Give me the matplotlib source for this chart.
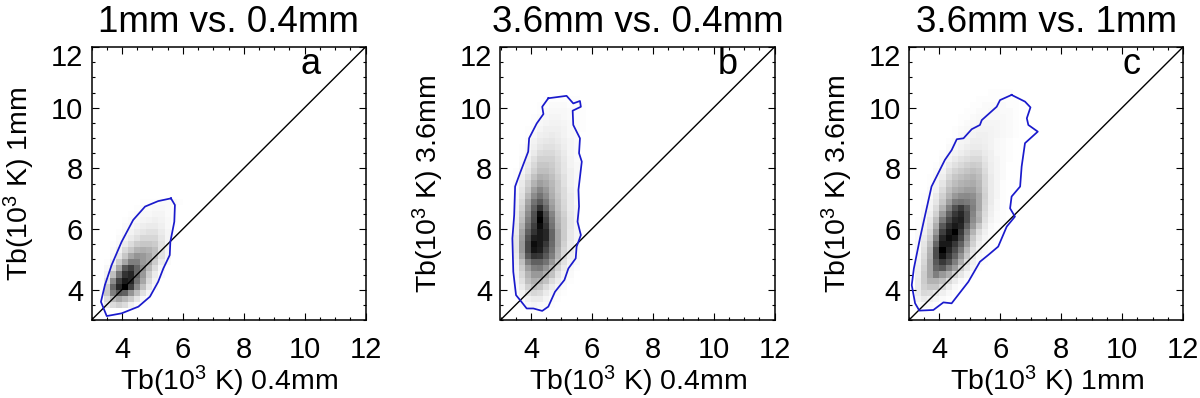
import numpy as np
import matplotlib
matplotlib.use("Agg")
import matplotlib.pyplot as plt
from matplotlib.ticker import MultipleLocator
from matplotlib.transforms import ScaledTranslation

plt.rcParams['font.family'] = ['Liberation Sans', 'DejaVu Sans']
plt.rcParams['mathtext.default'] = 'regular'

titles = ["1mm vs. 0.4mm", "3.6mm vs. 0.4mm", "3.6mm vs. 1mm"]
xlabels = ["Tb(10$^{3}$ K) 0.4mm", "Tb(10$^{3}$ K) 0.4mm", "Tb(10$^{3}$ K) 1mm"]
ylabels = ["Tb(10$^{3}$ K) 1mm", "Tb(10$^{3}$ K) 3.6mm", "Tb(10$^{3}$ K) 3.6mm"]
letters = ["a", "b", "c"]
letter_x = [10.2, 10.45, 10.3]
ticks = [4, 6, 8, 10, 12]

# Darkness (percent of black) per 0.2-wide cell; rows go upward from y0, columns rightward from x0
a_x0, a_y0 = 3.4, 3.4
density_a = [
 [8,14,18,14,6,2],
 [14,28,35,28,20,10,3],
 [22,50,65,62,42,25,12,4],
 [20,60,85,100,75,45,25,10,3],
 [10,45,75,90,85,55,35,15,5],
 [5,25,55,80,85,60,40,20,8,2],
 [3,12,35,65,75,60,45,28,14,4],
 [1,6,20,35,50,50,40,35,20,8,2],
 [0,3,10,22,35,42,40,35,25,12,4],
 [0,2,6,15,22,30,32,30,25,12,4],
 [0,1,3,8,14,20,22,22,20,12,4],
 [0,0,2,5,8,12,16,16,16,10,4],
 [0,0,1,3,5,8,10,12,12,8,4,1],
 [0,0,0,2,3,5,7,8,8,6,3,1],
 [0,0,0,1,2,3,4,5,6,5,3,1],
 [0,0,0,0,1,2,3,3,4,4,2,1],
 [0,0,0,0,0,1,2,2,3,3,2,1],
 [0,0,0,0,0,0,1,1,1,2,2,2,1],
]
b_x0, b_y0 = 3.4, 3.4
density_b = [
 [0,1,3,4,3,2,1],
 [0,2,6,8,8,4,2,1],
 [1,5,12,16,14,8,4,2,1],
 [2,8,18,25,22,14,8,4,2],
 [3,12,25,32,30,24,14,8,3,1],
 [4,16,30,40,40,32,24,12,5,2],
 [5,20,38,50,52,42,30,18,8,3,1],
 [6,25,50,62,62,55,40,24,12,5,2],
 [8,35,65,80,78,65,50,30,15,7,3],
 [10,40,72,92,88,72,55,32,16,8,3],
 [10,40,72,95,90,78,58,35,18,8,3],
 [10,38,68,88,90,85,60,35,20,9,4],
 [8,35,62,80,90,85,60,35,20,9,4],
 [8,30,55,75,95,80,55,32,20,10,4],
 [7,25,50,70,100,75,52,30,20,10,4],
 [6,22,45,68,95,70,48,28,18,9,4],
 [5,18,40,62,80,60,40,25,16,8,4],
 [4,15,35,55,65,52,36,24,15,8,3],
 [3,12,28,45,55,45,32,22,14,8,3],
 [2,10,22,38,48,40,30,20,14,7,3],
 [2,8,18,30,38,34,28,20,12,6,3],
 [1,6,14,24,32,30,25,18,12,6,3],
 [1,4,10,18,25,25,22,16,10,6,3],
 [0,3,8,15,22,22,20,15,10,5,3],
 [0,2,6,12,18,18,18,14,9,5,2],
 [0,1,4,8,14,15,15,12,8,4,2],
 [0,1,3,6,10,12,12,10,7,4,2],
 [0,0,2,5,8,9,10,8,6,4,2],
 [0,0,1,3,6,7,8,7,5,3,2],
 [0,0,1,2,4,6,6,6,5,3,2,1],
 [0,0,0,1,3,4,5,5,4,3,2,1],
 [0,0,0,1,2,3,4,4,3,2,1,1],
 [0,0,0,0,1,2,3,3,3,2,1,1],
 [0,0,0,0,1,1,2,2,2,1,1,1],
 [0,0,0,0,0,1,1,1,1,1,1],
]
c_x0, c_y0 = 3.2, 3.4
density_c = [
 [2,3,2,1],
 [5,8,6,4,2,1],
 [8,15,14,10,6,3,1],
 [8,18,22,22,15,8,3,1],
 [8,20,30,30,25,15,8,3,1],
 [7,20,35,50,40,32,18,10,4,1],
 [6,18,35,60,65,50,38,20,10,4,1],
 [5,16,35,65,78,68,50,32,14,6,2,1],
 [4,14,32,70,92,78,62,42,22,9,3,1],
 [3,12,30,70,100,85,70,52,28,12,5,2,1],
 [3,10,25,60,90,90,78,62,38,18,7,3,1],
 [2,8,20,50,85,95,90,72,45,22,10,4,2],
 [2,6,16,40,75,90,100,78,52,30,14,6,2,1],
 [1,5,12,32,65,82,90,85,62,40,22,9,3,1],
 [1,4,10,25,52,72,85,88,70,45,32,12,5,2,1],
 [0,3,7,18,40,62,78,85,70,48,30,14,6,2,1],
 [0,2,5,14,30,50,68,78,65,50,34,16,7,3,1],
 [0,1,4,10,22,38,52,55,52,48,34,17,8,3,1],
 [0,1,2,8,18,30,40,45,46,44,34,18,8,4,1],
 [0,0,2,5,14,25,32,35,38,38,30,17,8,4,1],
 [0,0,1,4,10,20,26,30,32,33,28,16,8,4,1],
 [0,0,1,3,7,16,22,25,28,30,26,16,8,4,2],
 [0,0,0,2,5,12,17,20,23,25,23,14,7,4,2],
 [0,0,0,1,3,8,12,15,18,20,19,12,7,4,2],
 [0,0,0,0,2,5,8,11,13,15,15,10,6,4,2,1],
 [0,0,0,0,1,3,5,7,9,11,11,8,6,3,2,1],
 [0,0,0,0,0,2,3,5,7,8,8,7,5,3,2,1],
 [0,0,0,0,0,1,2,4,5,7,7,6,5,3,2,1],
 [0,0,0,0,0,0,1,3,4,5,6,6,5,4,3,2,1],
 [0,0,0,0,0,0,1,2,3,4,5,5,5,4,3,2,1],
 [0,0,0,0,0,0,0,1,2,3,4,4,4,4,3,2,1],
 [0,0,0,0,0,0,0,1,1,2,3,3,3,3,3,2,1],
 [0,0,0,0,0,0,0,0,1,1,2,2,3,3,2,2,1],
 [0,0,0,0,0,0,0,0,0,1,1,2,2,2,2,1,1],
 [0,0,0,0,0,0,0,0,0,0,1,1,1,1,1,1,1],
 [0,0,0,0,0,0,0,0,0,0,0,0,1,1,1,1],
]

contour_a_x = [5.61,5.74,5.72,5.59,5.57,5.36,5.19,4.92,4.54,3.99,3.5,3.31,3.44,3.66,3.99,4.37,4.76,5.19,5.61]
contour_a_y = [7.01,6.79,6.24,5.58,5.14,4.7,4.26,3.77,3.44,3.22,3.13,3.6,4.15,4.81,5.58,6.3,6.74,6.92,7.01]
contour_b_x = [4.57,5.17,5.39,5.61,5.64,5.37,5.39,5.61,5.58,5.67,5.56,5.58,5.53,5.64,5.5,5.47,5.23,5.1,4.79,4.57,4.37,4.08,3.86,3.64,3.51,3.42,3.39,3.45,3.48,3.64,3.91,3.94,4.19,4.41,4.37,4.57]
contour_b_y = [10.31,10.39,10.14,10.22,10.03,9.9,9.43,8.99,8.5,8.22,7.29,6.74,6.24,5.8,5.42,5.03,4.7,4.32,3.93,3.44,3.3,3.38,3.38,3.66,3.82,4.59,5.69,6.46,7.4,7.84,8.55,8.99,9.48,9.79,10.03,10.31]
contour_c_x = [6.37,6.81,6.99,6.87,6.92,7.23,6.81,6.7,6.65,6.37,6.32,6.48,6.21,5.93,5.6,5.33,4.95,4.4,4.13,3.8,3.34,3.2,3.09,3.16,3.36,3.53,3.74,4.18,4.4,4.57,4.79,5.06,5.33,5.39,5.88,5.99,6.37]
contour_c_y = [10.42,10.2,10.01,9.65,9.43,9.21,8.83,8.06,7.4,7.07,6.68,6.41,6.08,5.42,5.14,4.92,4.26,3.55,3.58,3.33,3.31,3.55,4.15,4.7,5.69,6.46,7.4,8.28,8.6,8.96,8.99,9.29,9.43,9.59,10.03,10.25,10.42]
diagonal = [3, 12]

panels = [
    (density_a, a_x0, a_y0, contour_a_x, contour_a_y),
    (density_b, b_x0, b_y0, contour_b_x, contour_b_y),
    (density_c, c_x0, c_y0, contour_c_x, contour_c_y),
]
left_px = [91.5, 500.5, 909.0]
W, H = 1200, 398
AX_W, AX_T, AX_B = 274, 47, 320
ylabel_px = [19, 428, 837]

fig = plt.figure(figsize=(W/100, H/100), dpi=100, facecolor='white')
for i, (dens, x0, y0, cx, cy) in enumerate(panels):
    ax = fig.add_axes([left_px[i]/W, 1-AX_B/H, AX_W/W, (AX_B-AX_T)/H])
    ncol = max(len(r) for r in dens)
    z = np.zeros((len(dens), ncol))
    for r, row in enumerate(dens):
        z[r, :len(row)] = row
    xe = x0 + 0.2*np.arange(ncol+1)
    ye = y0 + 0.2*np.arange(len(dens)+1)
    ax.pcolormesh(xe, ye, z, cmap='gray_r', vmin=0, vmax=100, shading='flat',
                  rasterized=True, linewidth=0)
    ax.plot(diagonal, diagonal, color='black', lw=1.0)
    ax.plot(cx, cy, color='#1a1acc', lw=1.25, solid_joinstyle='round')
    ax.set_xlim(3, 12); ax.set_ylim(3, 12)
    ax.set_xticks(ticks); ax.set_yticks(ticks)
    ax.xaxis.set_minor_locator(MultipleLocator(0.5))
    ax.yaxis.set_minor_locator(MultipleLocator(0.5))
    ax.tick_params(which='major', direction='in', length=5, width=0.8, top=True, right=True, labelsize=21)
    ax.tick_params(which='minor', direction='in', length=2.5, width=0.8, top=True, right=True)
    ax.tick_params(axis='x', which='major', pad=11.5)
    ax.tick_params(axis='y', which='major', pad=6)
    for s in ax.spines.values():
        s.set_linewidth(1.1)
    lab12 = ax.get_yticklabels()[-1]
    lab12.set_transform(lab12.get_transform() + ScaledTranslation(0, -8/100, fig.dpi_scale_trans))
    ax.text(letter_x[i], 11.1, letters[i], fontsize=26, ha='center', va='baseline')
    cx_px = left_px[i] + AX_W/2
    fig.text(cx_px/W, 1-32/H, titles[i], fontsize=26.5, ha='center', va='baseline')
    fig.text((cx_px+1)/W, 1-390/H, xlabels[i], fontsize=20.5, ha='center', va='baseline')
    fig.text(ylabel_px[i]/W, 1-184/H, ylabels[i], fontsize=20.5, ha='center', va='center', rotation=90)

fig.savefig('out.png', dpi=100)
